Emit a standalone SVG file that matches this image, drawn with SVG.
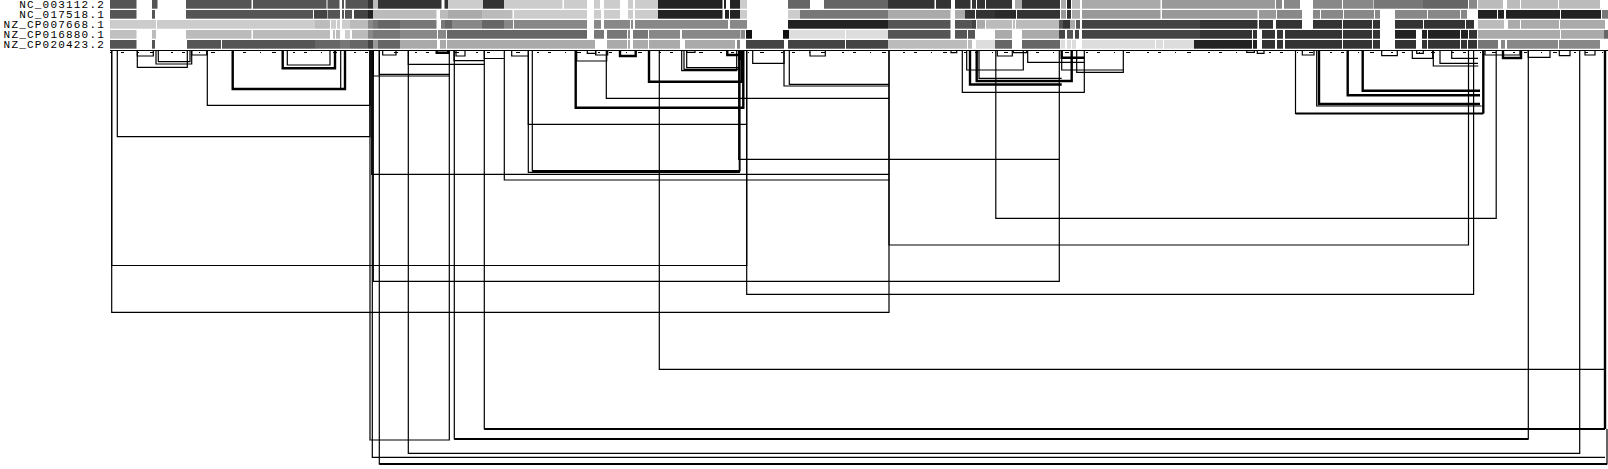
<svg xmlns="http://www.w3.org/2000/svg" width="1608" height="469" viewBox="0 0 1608 469">
<style>
.lbl{font-family:"Liberation Mono","DejaVu Sans Mono",monospace;font-size:11px;letter-spacing:1.2px;fill:#000;text-anchor:end}
.b{fill:none;stroke:#000;stroke-width:1.2}
.t{fill:none;stroke:#000;stroke-width:2.4}
.h{fill:none;stroke:#000;stroke-width:2}
</style>
<rect width="1608" height="469" fill="#fff"/>
<g id="labels">
<text class="lbl" x="105" y="8">NC_003112.2</text>
<text class="lbl" x="105" y="18">NC_017518.1</text>
<text class="lbl" x="105" y="28">NZ_CP007668.1</text>
<text class="lbl" x="105" y="38">NZ_CP016880.1</text>
<text class="lbl" x="105" y="48">NZ_CP020423.2</text>
</g>
<g id="row1">
<rect x="110" y="0" width="26.5" height="8.7" fill="#555"/><rect x="152" y="0" width="5.5" height="8.7" fill="#555"/><rect x="186" y="0" width="65.5" height="8.7" fill="#555"/><rect x="253" y="0" width="73.5" height="8.7" fill="#555"/><rect x="327.5" y="0" width="12" height="8.7" fill="#555"/><rect x="342" y="0" width="2" height="8.7" fill="#555"/><rect x="345.5" y="0" width="22.5" height="8.7" fill="#555"/><rect x="368" y="0" width="5" height="8.7" fill="#333"/><rect x="373" y="0" width="5" height="8.7" fill="#bbb"/><rect x="378" y="0" width="63.5" height="8.7" fill="#333"/><rect x="444.5" y="0" width="3.5" height="8.7" fill="#333"/><rect x="448" y="0" width="35" height="8.7" fill="#ccc"/><rect x="483" y="0" width="21" height="8.7" fill="#333"/><rect x="504" y="0" width="58.5" height="8.7" fill="#ccc"/><rect x="564" y="0" width="23" height="8.7" fill="#ccc"/><rect x="594" y="0" width="6" height="8.7" fill="#ccc"/><rect x="604" y="0" width="16" height="8.7" fill="#ccc"/><rect x="628" y="0" width="5" height="8.7" fill="#ccc"/><rect x="635" y="0" width="23" height="8.7" fill="#ccc"/><rect x="658" y="0" width="64.5" height="8.7" fill="#222"/><rect x="724" y="0" width="2" height="8.7" fill="#222"/><rect x="730" y="0" width="10" height="8.7" fill="#222"/><rect x="740" y="0" width="7" height="8.7" fill="#ccc"/><rect x="788" y="0" width="22" height="8.7" fill="#666"/><rect x="824" y="0" width="64" height="8.7" fill="#666"/><rect x="888" y="0" width="46.5" height="8.7" fill="#333"/><rect x="936" y="0" width="15" height="8.7" fill="#333"/><rect x="955" y="0" width="15.5" height="8.7" fill="#333"/><rect x="972" y="0" width="4" height="8.7" fill="#333"/><rect x="977" y="0" width="8" height="8.7" fill="#333"/><rect x="986" y="0" width="26" height="8.7" fill="#333"/><rect x="1015" y="0" width="7" height="8.7" fill="#aaa"/><rect x="1022" y="0" width="38" height="8.7" fill="#333"/><rect x="1061" y="0" width="5" height="8.7" fill="#aaa"/><rect x="1067" y="0" width="4" height="8.7" fill="#222"/><rect x="1072" y="0" width="8" height="8.7" fill="#bbb"/><rect x="1082" y="0" width="78.5" height="8.7" fill="#aaa"/><rect x="1162" y="0" width="113" height="8.7" fill="#999"/><rect x="1276" y="0" width="6" height="8.7" fill="#888"/><rect x="1284" y="0" width="16" height="8.7" fill="#888"/><rect x="1313" y="0" width="29" height="8.7" fill="#888"/><rect x="1343" y="0" width="30.5" height="8.7" fill="#888"/><rect x="1374" y="0" width="49" height="8.7" fill="#777"/><rect x="1423" y="0" width="45" height="8.7" fill="#666"/><rect x="1469" y="0" width="8" height="8.7" fill="#888"/><rect x="1478" y="0" width="25" height="8.7" fill="#bbb"/><rect x="1507" y="0" width="13" height="8.7" fill="#bbb"/><rect x="1521" y="0" width="37" height="8.7" fill="#bbb"/><rect x="1559" y="0" width="41" height="8.7" fill="#bbb"/>
</g>
<g id="row2">
<rect x="110" y="10" width="26.5" height="8.7" fill="#555"/><rect x="152" y="10" width="3" height="8.7" fill="#555"/><rect x="186" y="10" width="127" height="8.7" fill="#555"/><rect x="314" y="10" width="13" height="8.7" fill="#444"/><rect x="327.5" y="10" width="12.5" height="8.7" fill="#555"/><rect x="342" y="10" width="2" height="8.7" fill="#555"/><rect x="345" y="10" width="7" height="8.7" fill="#555"/><rect x="354" y="10" width="14" height="8.7" fill="#444"/><rect x="368" y="10" width="5" height="8.7" fill="#222"/><rect x="373" y="10" width="63.5" height="8.7" fill="#bbb"/><rect x="440" y="10" width="8" height="8.7" fill="#bbb"/><rect x="448" y="10" width="34" height="8.7" fill="#aaa"/><rect x="482" y="10" width="30.5" height="8.7" fill="#bbb"/><rect x="514" y="10" width="73" height="8.7" fill="#ccc"/><rect x="594" y="10" width="7" height="8.7" fill="#ccc"/><rect x="604" y="10" width="16" height="8.7" fill="#ccc"/><rect x="628" y="10" width="5" height="8.7" fill="#ccc"/><rect x="635" y="10" width="23" height="8.7" fill="#ccc"/><rect x="658" y="10" width="64.5" height="8.7" fill="#222"/><rect x="725" y="10" width="4" height="8.7" fill="#222"/><rect x="730" y="10" width="10" height="8.7" fill="#222"/><rect x="740" y="10" width="7" height="8.7" fill="#ccc"/><rect x="788" y="10" width="12" height="8.7" fill="#ccc"/><rect x="800" y="10" width="88" height="8.7" fill="#777"/><rect x="888" y="10" width="62.5" height="8.7" fill="#aaa"/><rect x="955" y="10" width="10" height="8.7" fill="#aaa"/><rect x="965" y="10" width="10" height="8.7" fill="#333"/><rect x="976" y="10" width="19" height="8.7" fill="#333"/><rect x="995" y="10" width="21" height="8.7" fill="#2a2a2a"/><rect x="1017" y="10" width="43" height="8.7" fill="#333"/><rect x="1061" y="10" width="5" height="8.7" fill="#999"/><rect x="1067" y="10" width="4" height="8.7" fill="#333"/><rect x="1072" y="10" width="8" height="8.7" fill="#aaa"/><rect x="1082" y="10" width="78.5" height="8.7" fill="#999"/><rect x="1162" y="10" width="95.5" height="8.7" fill="#999"/><rect x="1259" y="10" width="17" height="8.7" fill="#999"/><rect x="1277" y="10" width="25" height="8.7" fill="#888"/><rect x="1313" y="10" width="7" height="8.7" fill="#888"/><rect x="1321" y="10" width="22" height="8.7" fill="#888"/><rect x="1344" y="10" width="30" height="8.7" fill="#888"/><rect x="1375" y="10" width="5" height="8.7" fill="#888"/><rect x="1395" y="10" width="32" height="8.7" fill="#888"/><rect x="1428" y="10" width="32" height="8.7" fill="#888"/><rect x="1461" y="10" width="6" height="8.7" fill="#888"/><rect x="1478" y="10" width="19" height="8.7" fill="#222"/><rect x="1498" y="10" width="6" height="8.7" fill="#222"/><rect x="1506" y="10" width="54" height="8.7" fill="#222"/><rect x="1561" y="10" width="40" height="8.7" fill="#222"/><rect x="1602" y="10" width="6" height="8.7" fill="#777"/>
</g>
<g id="row3">
<rect x="110" y="20" width="46" height="8.7" fill="#ccc"/><rect x="157" y="20" width="158" height="8.7" fill="#ccc"/><rect x="315" y="20" width="15" height="8.7" fill="#bbb"/><rect x="331" y="20" width="5" height="8.7" fill="#ccc"/><rect x="337" y="20" width="3" height="8.7" fill="#ccc"/><rect x="342" y="20" width="8" height="8.7" fill="#ccc"/><rect x="350" y="20" width="18" height="8.7" fill="#bbb"/><rect x="368" y="20" width="5" height="8.7" fill="#888"/><rect x="373" y="20" width="5" height="8.7" fill="#777"/><rect x="378" y="20" width="22" height="8.7" fill="#666"/><rect x="400" y="20" width="36.5" height="8.7" fill="#777"/><rect x="441" y="20" width="4" height="8.7" fill="#777"/><rect x="445" y="20" width="7" height="8.7" fill="#666"/><rect x="452" y="20" width="30" height="8.7" fill="#888"/><rect x="482" y="20" width="22" height="8.7" fill="#666"/><rect x="504" y="20" width="9" height="8.7" fill="#888"/><rect x="514" y="20" width="73" height="8.7" fill="#888"/><rect x="594" y="20" width="7" height="8.7" fill="#888"/><rect x="604" y="20" width="26" height="8.7" fill="#888"/><rect x="631" y="20" width="2" height="8.7" fill="#888"/><rect x="635" y="20" width="93" height="8.7" fill="#888"/><rect x="730" y="20" width="17" height="8.7" fill="#888"/><rect x="788" y="20" width="100" height="8.7" fill="#222"/><rect x="888" y="20" width="62.5" height="8.7" fill="#555"/><rect x="955" y="20" width="17" height="8.7" fill="#555"/><rect x="972" y="20" width="4" height="8.7" fill="#444"/><rect x="977" y="20" width="8" height="8.7" fill="#aaa"/><rect x="986" y="20" width="26" height="8.7" fill="#bbb"/><rect x="1013" y="20" width="2" height="8.7" fill="#bbb"/><rect x="1016" y="20" width="43" height="8.7" fill="#bbb"/><rect x="1059" y="20" width="4" height="8.7" fill="#555"/><rect x="1063" y="20" width="7" height="8.7" fill="#333"/><rect x="1070" y="20" width="5" height="8.7" fill="#aaa"/><rect x="1076" y="20" width="4" height="8.7" fill="#555"/><rect x="1082" y="20" width="118" height="8.7" fill="#444"/><rect x="1200" y="20" width="57.5" height="8.7" fill="#333"/><rect x="1259" y="20" width="14" height="8.7" fill="#333"/><rect x="1276" y="20" width="26" height="8.7" fill="#333"/><rect x="1313" y="20" width="29" height="8.7" fill="#333"/><rect x="1343" y="20" width="29" height="8.7" fill="#333"/><rect x="1373" y="20" width="7" height="8.7" fill="#333"/><rect x="1395" y="20" width="28" height="8.7" fill="#333"/><rect x="1424" y="20" width="41" height="8.7" fill="#333"/><rect x="1466" y="20" width="8" height="8.7" fill="#333"/><rect x="1478" y="20" width="26" height="8.7" fill="#bbb"/><rect x="1508" y="20" width="12" height="8.7" fill="#aaa"/><rect x="1521" y="20" width="38" height="8.7" fill="#aaa"/><rect x="1560" y="20" width="45" height="8.7" fill="#aaa"/>
</g>
<g id="row4">
<rect x="110" y="30" width="26.5" height="8.7" fill="#c0c0c0"/><rect x="152" y="30" width="4" height="8.7" fill="#bbb"/><rect x="186" y="30" width="65.5" height="8.7" fill="#bbb"/><rect x="253" y="30" width="77" height="8.7" fill="#bbb"/><rect x="333" y="30" width="2" height="8.7" fill="#bbb"/><rect x="336" y="30" width="4" height="8.7" fill="#bbb"/><rect x="345" y="30" width="5" height="8.7" fill="#ccc"/><rect x="352" y="30" width="16" height="8.7" fill="#bbb"/><rect x="368" y="30" width="5" height="8.7" fill="#888"/><rect x="373" y="30" width="27" height="8.7" fill="#777"/><rect x="400" y="30" width="37" height="8.7" fill="#888"/><rect x="438" y="30" width="8" height="8.7" fill="#888"/><rect x="447" y="30" width="140" height="8.7" fill="#666"/><rect x="594" y="30" width="10" height="8.7" fill="#777"/><rect x="607" y="30" width="20" height="8.7" fill="#777"/><rect x="628" y="30" width="2" height="8.7" fill="#888"/><rect x="633" y="30" width="15" height="8.7" fill="#777"/><rect x="649" y="30" width="31" height="8.7" fill="#888"/><rect x="682" y="30" width="58" height="8.7" fill="#888"/><rect x="740.5" y="30" width="4.5" height="8.7" fill="#888"/><rect x="746" y="30" width="6" height="8.7" fill="#111"/><rect x="783" y="30" width="6" height="8.7" fill="#111"/><rect x="789" y="30" width="56" height="8.7" fill="#ddd"/><rect x="846" y="30" width="42" height="8.7" fill="#ddd"/><rect x="888" y="30" width="62.5" height="8.7" fill="#555"/><rect x="955" y="30" width="12" height="8.7" fill="#555"/><rect x="968" y="30" width="7" height="8.7" fill="#555"/><rect x="995" y="30" width="17" height="8.7" fill="#aaa"/><rect x="1022" y="30" width="37" height="8.7" fill="#aaa"/><rect x="1059" y="30" width="6" height="8.7" fill="#444"/><rect x="1067" y="30" width="6" height="8.7" fill="#555"/><rect x="1075" y="30" width="4" height="8.7" fill="#444"/><rect x="1082" y="30" width="118" height="8.7" fill="#444"/><rect x="1200" y="30" width="52" height="8.7" fill="#333"/><rect x="1253" y="30" width="4" height="8.7" fill="#333"/><rect x="1262" y="30" width="13" height="8.7" fill="#333"/><rect x="1277" y="30" width="6" height="8.7" fill="#333"/><rect x="1285" y="30" width="57" height="8.7" fill="#333"/><rect x="1343" y="30" width="29" height="8.7" fill="#333"/><rect x="1373" y="30" width="7" height="8.7" fill="#333"/><rect x="1395" y="30" width="21" height="8.7" fill="#222"/><rect x="1422" y="30" width="5" height="8.7" fill="#222"/><rect x="1428" y="30" width="32" height="8.7" fill="#222"/><rect x="1461" y="30" width="7" height="8.7" fill="#222"/><rect x="1469" y="30" width="8" height="8.7" fill="#333"/><rect x="1478" y="30" width="82" height="8.7" fill="#aaa"/><rect x="1561" y="30" width="43" height="8.7" fill="#aaa"/><rect x="1604" y="30" width="4" height="8.7" fill="#666"/>
</g>
<g id="row5">
<rect x="110" y="40" width="26.5" height="8.7" fill="#555"/><rect x="152" y="40" width="3" height="8.7" fill="#555"/><rect x="187" y="40" width="34" height="8.7" fill="#555"/><rect x="222" y="40" width="93" height="8.7" fill="#555"/><rect x="315" y="40" width="25" height="8.7" fill="#666"/><rect x="340" y="40" width="10" height="8.7" fill="#777"/><rect x="350" y="40" width="18" height="8.7" fill="#666"/><rect x="368" y="40" width="5" height="8.7" fill="#444"/><rect x="373" y="40" width="5" height="8.7" fill="#999"/><rect x="378" y="40" width="22" height="8.7" fill="#666"/><rect x="400" y="40" width="37" height="8.7" fill="#aaa"/><rect x="440" y="40" width="6" height="8.7" fill="#aaa"/><rect x="447" y="40" width="148" height="8.7" fill="#aaa"/><rect x="607" y="40" width="20" height="8.7" fill="#aaa"/><rect x="628" y="40" width="2" height="8.7" fill="#aaa"/><rect x="633" y="40" width="15" height="8.7" fill="#aaa"/><rect x="649" y="40" width="31" height="8.7" fill="#aaa"/><rect x="685" y="40" width="50" height="8.7" fill="#aaa"/><rect x="737" y="40" width="3" height="8.7" fill="#888"/><rect x="746" y="40" width="38" height="8.7" fill="#444"/><rect x="788" y="40" width="57" height="8.7" fill="#444"/><rect x="846" y="40" width="42" height="8.7" fill="#444"/><rect x="888" y="40" width="79" height="8.7" fill="#bbb"/><rect x="968" y="40" width="4" height="8.7" fill="#bbb"/><rect x="976" y="40" width="19" height="8.7" fill="#ddd"/><rect x="995" y="40" width="17" height="8.7" fill="#666"/><rect x="1022" y="40" width="38" height="8.7" fill="#666"/><rect x="1060.5" y="40" width="4.5" height="8.7" fill="#ddd"/><rect x="1067" y="40" width="4" height="8.7" fill="#ddd"/><rect x="1072" y="40" width="4" height="8.7" fill="#ddd"/><rect x="1082" y="40" width="73" height="8.7" fill="#ddd"/><rect x="1156" y="40" width="7" height="8.7" fill="#ddd"/><rect x="1164" y="40" width="30" height="8.7" fill="#ddd"/><rect x="1194" y="40" width="58" height="8.7" fill="#222"/><rect x="1253" y="40" width="4" height="8.7" fill="#222"/><rect x="1262" y="40" width="13" height="8.7" fill="#333"/><rect x="1277" y="40" width="6" height="8.7" fill="#333"/><rect x="1285" y="40" width="57" height="8.7" fill="#333"/><rect x="1343" y="40" width="29" height="8.7" fill="#333"/><rect x="1373" y="40" width="7" height="8.7" fill="#333"/><rect x="1395" y="40" width="21" height="8.7" fill="#333"/><rect x="1422" y="40" width="5" height="8.7" fill="#333"/><rect x="1428" y="40" width="32" height="8.7" fill="#333"/><rect x="1461" y="40" width="6" height="8.7" fill="#333"/><rect x="1468" y="40" width="9" height="8.7" fill="#333"/><rect x="1478" y="40" width="20" height="8.7" fill="#777"/><rect x="1501" y="40" width="4" height="8.7" fill="#888"/><rect x="1507" y="40" width="51" height="8.7" fill="#888"/><rect x="1559" y="40" width="41" height="8.7" fill="#888"/>
</g>
<g id="axis">
<line x1="110" y1="50.5" x2="1608" y2="50.5" stroke="#000" stroke-width="1.2"/>
<line x1="110" y1="52.5" x2="1608" y2="52.5" stroke="#000" stroke-width="1.2" stroke-dasharray="2 9 3 14 1 11 4 17"/>
</g>
<g id="connectors">
<path class="b" d="M137.3 50V67.3H187.3V50"/>
<path class="b" d="M137.3 50V56H153.3V50"/>
<path class="b" d="M156 50V64H191.7V50"/>
<path class="b" d="M158.3 50V61.7H190V50"/>
<path class="b" d="M191.7 50V55H206.7V50"/>
<path class="b" d="M207.3 50V105.3H370V50"/>
<path class="b" d="M117.3 50V136.7H370V50"/>
<path class="t" d="M232.7 50V89H345V50"/>
<path class="b" d="M340.7 50V89"/>
<path class="t" d="M282.7 50V68.3H335V50"/>
<path class="b" d="M287.3 50V65H330V50"/>
<path class="b" d="M111.7 50V265.5H746.7V50"/>
<path class="b" d="M111.7 50V312.3H889V50"/>
<path class="b" d="M370 50V440H449.3V50"/>
<path class="b" d="M373.3 50V76H449.3"/>
<path class="b" d="M379.3 50V74.3H449.3"/>
<path class="b" d="M408.3 50V64.3H484.3"/>
<path class="b" d="M454 50V60.7H484.3"/>
<path class="b" d="M382.7 50V55H396V50"/>
<path class="t" d="M436.7 50V52.7H448.3V50"/>
<path class="b" d="M456 50V56H465V50"/>
<path class="b" d="M454.3 50V439H1528.3V50"/>
<path class="h" d="M454.3 439H1528.3"/>
<path class="b" d="M484.3 50V429H1605"/>
<path class="h" d="M484.3 429H1605"/>
<path class="t" d="M1605 429V50"/>
<path class="b" d="M408.3 50V453.3H1579.7V50"/>
<path class="b" d="M372.3 50V457.3H1605"/>
<path class="b" d="M379.3 50V464H1607V429"/>
<path class="h" d="M379.3 464H1607"/>
<path class="b" d="M659.3 50V369.3H1605"/>
<path class="b" d="M373.3 50V281.3H1059.3V50"/>
<path class="b" d="M371.7 50V174.3H889"/>
<path class="b" d="M504.3 50V180H889"/>
<path class="b" d="M484.3 50V58.5H504.3"/>
<path class="b" d="M528.3 50V172.3H739.3V50"/>
<path class="b" d="M532.3 50V171H740V50"/>
<path class="h" d="M532.3 171H740"/>
<path class="b" d="M528.3 50V124.3H746.7"/>
<path class="t" d="M575.7 50V107.7H743.3V50"/>
<path class="b" d="M606.3 50V98.3H889"/>
<path class="t" d="M649 50V81.7H741.7V50"/>
<path class="b" d="M681.7 50V70.7H736.7V50"/>
<path class="b" d="M684 50V69.3H740"/>
<path class="b" d="M686.7 50V67.7H740"/>
<path class="b" d="M738.7 50V159.3H1059.3"/>
<path class="b" d="M746.7 50V294.3H1473.6V50"/>
<path class="b" d="M752.7 50V63.3H784V50"/>
<path class="b" d="M784 50V86H889"/>
<path class="b" d="M789.3 50V84.3H889"/>
<path class="b" d="M889 50V245H1468.5V50"/>
<path class="b" d="M962.3 50V92.3H1084.3V50"/>
<path class="b" d="M966.7 50V70H1023.3V50"/>
<path class="t" d="M970 50V84.5H1061.7"/>
<path class="t" d="M976.7 50V81H1071.7V50"/>
<path class="b" d="M979 50V78.3H1061.7"/>
<path class="b" d="M995.8 50V218.4H1496.2V50"/>
<path class="b" d="M1027.7 50V62.3H1084.3"/>
<path class="b" d="M1076.7 50V72.3H1123.3V50"/>
<path class="b" d="M1061.7 50V70H1123.3"/>
<path class="b" d="M997.3 50V56H1012.3V50"/>
<path class="t" d="M1061.7 50V57.7H1084.3"/>
<path class="b" d="M1295.5 50V113.5H1483.3"/>
<path class="h" d="M1295.5 113.5H1483.3"/>
<path class="t" d="M1483.3 113.5V50"/>
<path class="b" d="M1316.7 50V106H1481.7"/>
<path class="t" d="M1319 50V104H1480"/>
<path class="t" d="M1347.7 50V95.3H1480"/>
<path class="t" d="M1362.7 50V90.7H1480"/>
<path class="b" d="M1433.3 50V66H1478.3"/>
<path class="b" d="M1440 50V63.3H1478"/>
<path class="b" d="M1451.7 50V58.3H1478"/>
<path class="b" d="M1412.3 50V58.3H1432.7V50"/>
<path class="b" d="M1416.7 50V53.3H1423.3V50"/>
<path class="b" d="M1381.7 50V55.7H1397.3V50"/>
<path class="b" d="M1302.3 50V55H1314V50"/>
<path class="b" d="M1257.3 50V53.3H1264V50"/>
<path class="b" d="M1246.7 50V52.3H1254.3V50"/>
<path class="b" d="M1485 50V55H1520V50"/>
<path class="t" d="M1503 50V58H1521V50"/>
<path class="b" d="M1528.3 50V57.3H1550V50"/>
<path class="b" d="M1559.3 50V55.7H1570V50"/>
<path class="b" d="M1585 50V55H1595V50"/>
<path class="b" d="M511.7 50V56H528.3"/>
<path class="b" d="M576.7 50V61H606.7V50"/>
<path class="b" d="M587.3 50V53.3H595.7V50"/>
<path class="b" d="M595.7 50V55H607.7V50"/>
<path class="t" d="M620 50V56H635.7V50"/>
<path class="b" d="M686.7 50V52.3H695V50"/>
<path class="t" d="M727.3 50V55H739"/>
<path class="b" d="M810 50V56H825.3V50"/>
<path class="b" d="M951 50V52.7H956.7V50"/>
<path class="b" d="M1013.3 50V52.7H1026.7V50"/>
<rect x="738.3" y="50" width="5" height="10" fill="#000"/>
</g>
</svg>
